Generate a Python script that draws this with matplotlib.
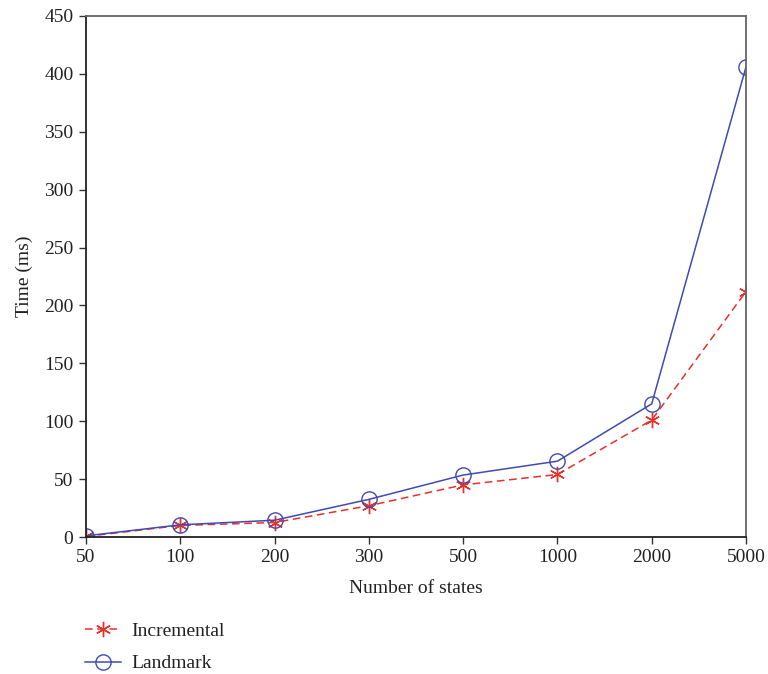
import matplotlib.pyplot as plt

plt.rcParams['font.family'] = ['Liberation Serif', 'DejaVu Serif']

states = ['50', '100', '200', '300', '500', '1000', '2000', '5000']
incremental = [0.5, 10, 12.5, 27, 45, 54, 101, 212]
landmark = [1, 10.5, 14.5, 32.5, 53.5, 65.5, 115, 406]

fig = plt.figure(figsize=(7.68, 6.74), dpi=100)
ax = fig.add_axes([86 / 768, 1 - 537 / 674, 660 / 768, 521 / 674])

x = list(range(len(states)))
ax.plot(x, incremental, color='#e8302a', linestyle='--', dashes=(5, 3), linewidth=1.1,
        marker=(6, 2, 0), markersize=11, markeredgewidth=1.0, label='Incremental')
ax.plot(x, landmark, color='#3f4bb0', linestyle='-', linewidth=1.1,
        marker='o', markersize=11, markerfacecolor='none', markeredgewidth=1.0, label='Landmark')

ax.set_xlim(0, 7)
ax.set_ylim(0, 450)
ax.set_xticks(x)
ax.set_xticklabels(states)
ax.set_yticks(range(0, 451, 50))
ax.tick_params(axis='both', labelsize=14, direction='out', length=5, width=1, colors='#333333',
               labelcolor='#222222', pad=4)
for s in ['left', 'bottom']:
    ax.spines[s].set_color('#222222')
for s in ['top', 'right']:
    ax.spines[s].set_color('#666666')
for s in ax.spines.values():
    s.set_linewidth(1.3)

ax.set_xlabel('Number of states', fontsize=14, color='#222222', labelpad=10)
ax.set_ylabel('Time (ms)', fontsize=14, color='#222222', labelpad=8)

fig.legend(loc='upper left', bbox_to_anchor=(67 / 768, 1 - 605 / 674), frameon=False,
           fontsize=14, handlelength=1.9, handletextpad=0.5, labelspacing=0.75,
           labelcolor='#222222')

fig.savefig('out.png', dpi=100)
